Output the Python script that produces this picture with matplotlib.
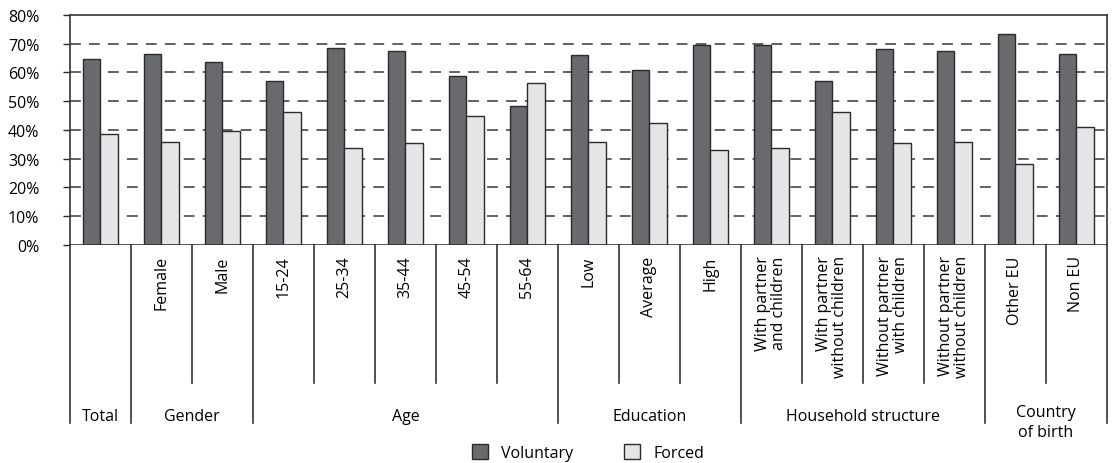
import matplotlib.pyplot as plt
from matplotlib.patches import Patch
import matplotlib.transforms as mtransforms
import numpy as np

plt.rcParams['font.family'] = ['Open Sans', 'DejaVu Sans']

categories = ['', 'Female', 'Male', '15-24', '25-34', '35-44', '45-54', '55-64',
              'Low', 'Average', 'High',
              'With partner\nand children', 'With partner\nwithout children',
              'Without partner\nwith children', 'Without partner\nwithout children',
              'Other EU', 'Non EU']
voluntary = [64.7, 66.6, 63.7, 56.9, 68.5, 67.4, 58.9, 48.3,
             66.0, 60.7, 69.4, 69.4, 57.0, 68.0, 67.5, 73.3, 66.6]
forced = [38.7, 35.8, 39.7, 46.3, 33.8, 35.3, 44.9, 56.5,
          35.8, 42.5, 33.2, 33.8, 46.3, 35.3, 35.8, 28.2, 41.1]
groups = ['Total', 'Gender', 'Age', 'Education', 'Household structure', 'Country\nof birth']
group_sizes = [1, 2, 5, 3, 4, 2]

dark = '#696a6e'
light = '#e4e5e7'
edge = '#2b2b2b'
fs = 11.5

fig = plt.figure(figsize=(11.14, 4.64), dpi=100)
ax = fig.add_axes([0.0628, 0.470, 0.9309, 0.4955])

x = np.arange(len(categories))
w = 0.29
ax.bar(x - w / 2, voluntary, w, color=dark, edgecolor=edge, linewidth=1, zorder=3, label='Voluntary')
ax.bar(x + w / 2, forced, w, color=light, edgecolor=edge, linewidth=1, zorder=3, label='Forced')

ax.set_xlim(-0.5, len(categories) - 0.5)
ax.set_ylim(0, 80)
ax.set_yticks(range(0, 90, 10))
ax.set_yticklabels([f'{v}%' for v in range(0, 90, 10)], fontsize=fs)
ax.tick_params(axis='y', length=5, width=1, pad=17, color=edge)
ax.set_xticks([])
for v in range(10, 80, 10):
    ax.axhline(v, color='#555555', linewidth=1.3, dashes=(6, 4.5), zorder=1)
for s in ax.spines.values():
    s.set_color('#333333')
    s.set_linewidth(1.2)
ax.spines['bottom'].set_visible(False)
ax.axhline(0, color='#333333', linewidth=1.2, zorder=4)

# table of labels underneath the axis
trans = mtransforms.blended_transform_factory(ax.transData, ax.transAxes)
bounds = np.cumsum([0] + group_sizes) - 0.5
for b in np.arange(-0.5, len(categories)):
    bottom = -0.774 if b in bounds else -0.60
    ax.plot([b, b], [0, bottom], transform=trans, color='#333333', linewidth=1.2, clip_on=False)

for i, lab in enumerate(categories):
    ax.text(i, -0.045, lab, transform=trans, rotation=90, ha='center', va='top',
            multialignment='right', fontsize=fs, linespacing=1.0)

for g, lo, hi in zip(groups, bounds[:-1], bounds[1:]):
    ax.text((lo + hi) / 2, -0.742 if '\n' not in g else -0.77, g, transform=trans,
            ha='center', va='center', fontsize=fs, linespacing=1.35)

handles = [Patch(facecolor=dark, edgecolor=edge), Patch(facecolor=light, edgecolor=edge)]
fig.legend(handles, ['Voluntary', 'Forced'], loc='center', bbox_to_anchor=(0.528, 0.022),
           ncol=2, frameon=False, fontsize=fs, handlelength=1.0, handleheight=1.0,
           columnspacing=3.2, handletextpad=0.8, borderpad=0)

fig.savefig('out.png', dpi=100)
